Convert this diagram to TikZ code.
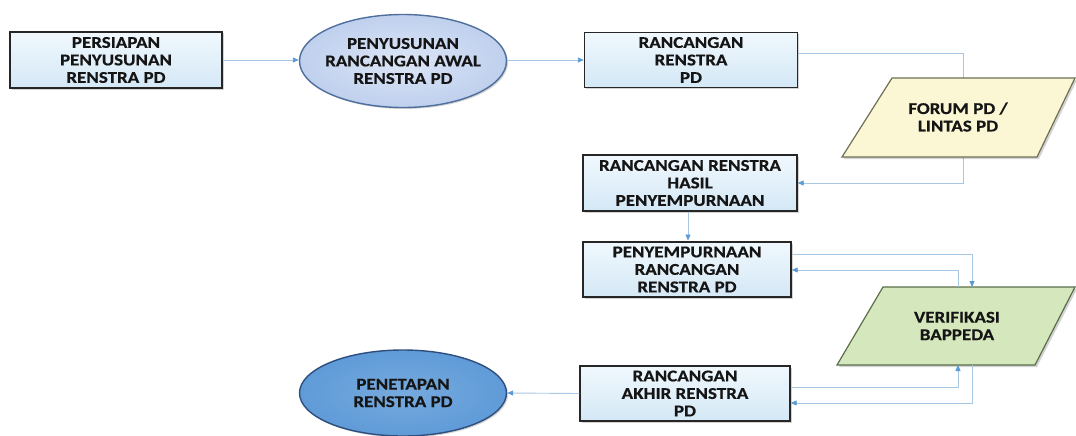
\documentclass[tikz,border=0pt]{standalone}
\usepackage{fontspec}
\setmainfont{Carlito}[FakeStretch=1.15,BoldFeatures={FakeBold=0.5}]
\usetikzlibrary{shapes.geometric,arrows.meta,shadows,calc}
\definecolor{boxtop}{HTML}{F0F8FD}
\definecolor{boxbot}{HTML}{D4E8F6}
\definecolor{linec}{HTML}{A8C7E4}
\definecolor{tipc}{HTML}{5B9BD5}
\definecolor{ellA}{HTML}{BFD0EE}
\definecolor{ellAb}{HTML}{4F6F9C}
\definecolor{ellB}{HTML}{5F9BD8}
\definecolor{ellBb}{HTML}{2E4E7E}
\definecolor{forumc}{HTML}{FBF6D4}
\definecolor{forumb}{HTML}{6F6F55}
\definecolor{verc}{HTML}{D5E7BD}
\definecolor{verb}{HTML}{5A6E4A}
\definecolor{txt}{HTML}{151515}
\tikzset{
  x=1pt,y=1pt,
  every node/.style={font=\fontsize{16.5}{17.5}\selectfont\bfseries, text=txt, align=center},
  stepbox/.style={rectangle, draw=black!85, line width=1.4pt, top color=boxtop, bottom color=boxbot, drop shadow={shadow xshift=1.5pt,shadow yshift=-1.5pt,opacity=0.35}, inner sep=0pt},
  ellbox/.style={ellipse, line width=1.4pt, inner xsep=-12pt, inner ysep=0pt, drop shadow={shadow xshift=1.5pt,shadow yshift=-1.5pt,opacity=0.35}},
  conn/.style={draw=linec, line width=0.9pt, -{Triangle[length=6pt,width=5pt,fill=tipc,color=tipc]}},
  para/.style={line width=1.2pt, drop shadow={shadow xshift=2pt,shadow yshift=-2pt,opacity=0.35}},
}
\begin{document}
\begin{tikzpicture}
\useasboundingbox (0,0) rectangle (1076,-436);
% nodes
\node[stepbox, minimum width=212, minimum height=56] (b1) at (116,-60) {PERSIAPAN\\PENYUSUNAN\\RENSTRA PD};
\node[ellbox, draw=ellAb, inner color=ellA!55!white, outer color=ellA, minimum width=207, minimum height=93] (e2) at (403,-61) {PENYUSUNAN\\RANCANGAN AWAL\\RENSTRA PD};
\node[stepbox, minimum width=213, minimum height=55] (b3) at (691,-60) {RANCANGAN\\RENSTRA\\PD};
\node[stepbox, minimum width=214, minimum height=56] (b4) at (690,-183) {RANCANGAN RENSTRA\\HASIL\\PENYEMPURNAAN};
\node[stepbox, minimum width=208, minimum height=55] (b5) at (687,-269.5) {PENYEMPURNAAN\\RANCANGAN\\RENSTRA PD};
\node[stepbox, minimum width=210, minimum height=55] (b6) at (685,-393.5) {RANCANGAN\\AKHIR RENSTRA\\PD};
\node[ellbox, draw=ellBb, inner color=ellB!85!white, outer color=ellB, minimum width=207, minimum height=86] (e7) at (403,-393) {PENETAPAN\\RENSTRA PD};

% connectors behind the parallelograms
\coordinate (c3a) at (963,-53);
\coordinate (c3b) at (963,-183);
\draw[conn] (b3.east |- c3a) -- (c3a) -- (c3b) -- (b4.east |- c3b);

% forum parallelogram
\coordinate (fc) at (958,-117);
\path[para, fill=forumc, draw=forumb] (892,-78) -- (1075,-78) -- (1037,-157) -- (842,-157) -- cycle;
\node (forum) at (fc) {FORUM PD /\\LINTAS PD};

% verifikasi parallelogram
\coordinate (vc) at (957,-326);
\path[para, fill=verc, draw=verb] (883,-287) -- (1075,-287) -- (1035,-365) -- (837,-365) -- cycle;
\node (verif) at (vc) {VERIFIKASI\\BAPPEDA};
\coordinate (vtA) at (972,-287);
\coordinate (vtB) at (958,-287);
\coordinate (vbA) at (958,-365);
\coordinate (vbB) at (972,-365);

% straight connectors
\draw[conn] (b1.east) -- (b1.east -| e2.west);
\draw[conn] (e2.east |- b3.west) -- (b3.west);
\draw[conn] (b4.south -| 688,0) -- (688,-240.5);
\draw[conn] (b5.east |- 0,-254) -- (972,-254) -- (vtA);
\draw[conn] (vtB) -- (958,-270) -- (b5.east |- 0,-270);
\draw[conn] (b6.east |- 0,-387) -- (958,-387) -- (vbA);
\draw[conn] (vbB) -- (972,-403) -- (b6.east |- 0,-403);
\draw[conn] (b6.west) -- (e7.east);
\end{tikzpicture}
\end{document}
